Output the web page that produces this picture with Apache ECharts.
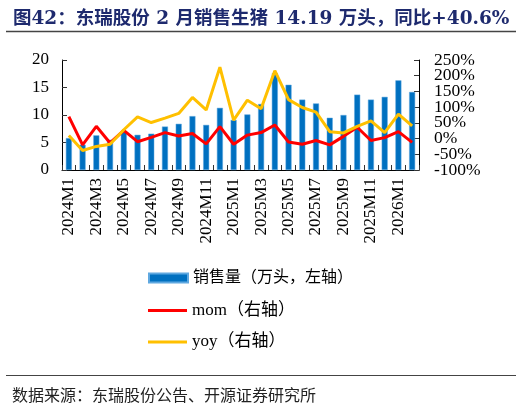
<!DOCTYPE html>
<html>
<head>
<meta charset="utf-8">
<title>东瑞股份生猪销售</title>
<script src="https://cdn.jsdelivr.net/npm/echarts@6/dist/echarts.min.js"></script>
<style>
  html, body { margin: 0; padding: 0; background: #fff; }
  #main { width: 522px; height: 405px; }
</style>
</head>
<body>
<div id="main"></div>
<script>
// months 2024M1 .. 2026M2
var months = ['2024M1','2024M2','2024M3','2024M4','2024M5','2024M6','2024M7','2024M8','2024M9','2024M10','2024M11','2024M12',
              '2025M1','2025M2','2025M3','2025M4','2025M5','2025M6','2025M7','2025M8','2025M9','2025M10','2025M11','2025M12',
              '2026M1','2026M2'];
// sales, 10k head (left axis)
var sales = [5.8, 4.6, 6.3, 5.5, 7.0, 6.4, 6.6, 7.9, 8.4, 9.8, 8.2, 11.3,
             9.1, 10.1, 12.0, 17.6, 15.5, 12.8, 12.1, 9.5, 10.0, 13.7, 12.8, 13.3,
             16.3, 14.19];
// month-on-month, % (right axis)
var mom = [70, -20, 39, -14, 26, -10, 4, 19, 8, 16, -17, 38,
           -18, 11, 19, 43, -11, -18, -6, -20, 7, 36, -6, 3,
           22, -12];
// year-on-year, % (right axis)
var yoy = [10, -38, -25, -18, 28, 69, 51, 65, 80, 131, 91, 227,
           59, 122, 95, 216, 124, 99, 84, 22, 18, 39, 56, 19,
           78, 40.6];

var serif = "'Liberation Serif', 'Noto Sans CJK SC'";
var chart = echarts.init(document.getElementById('main'));

// right-axis labels are packed tighter than ECharts allows, so they are
// split over two overlaid axes: one shows -100/0/100/200, the other the rest
function pctLabels(even) {
  return function (v) {
    var isEven = ((v + 100) / 50) % 2 === 0;
    return isEven === even ? v + '%' : '';
  };
}
function rightAxis(even, visible) {
  return {
    type: 'value', min: -100, max: 250, interval: 50, position: 'right',
    splitLine: { show: false },
    axisLine: { show: visible, lineStyle: { color: '#000' } },
    axisTick: { show: visible, inside: true, length: 5, lineStyle: { color: '#333' } },
    axisLabel: { margin: 15, formatter: pctLabels(even), showMinLabel: true, showMaxLabel: true,
                 fontFamily: serif, fontSize: 17.5, color: '#000' }
  };
}

chart.setOption({
  animation: false,
  title: [{
    text: '图42：东瑞股份 2 月销售生猪 14.19 万头，同比+40.6%',
    left: 8, top: 5,
    textStyle: { fontFamily: "'DejaVu Serif', 'Noto Sans CJK SC'", fontWeight: 'bold', fontSize: 18.5, color: '#1e2a6e' }
  }, {
    text: '数据来源：东瑞股份公告、开源证券研究所',
    left: 7, top: 382,
    textStyle: { fontFamily: 'Noto Sans CJK SC', fontWeight: 'normal', fontSize: 16, color: '#222' }
  }],
  graphic: [
    { type: 'line', shape: { x1: 6, y1: 31.5, x2: 516, y2: 31.5 }, style: { stroke: '#444', lineWidth: 1.5 } },
    { type: 'line', shape: { x1: 6, y1: 375.5, x2: 516, y2: 375.5 }, style: { stroke: '#444', lineWidth: 1.2 } }
  ],
  legend: [{
    data: ['销售量（万头，左轴）'],
    left: 148, top: 270, padding: 0,
    icon: 'rect', itemWidth: 39, itemHeight: 9, itemGap: 14,
    textStyle: { fontFamily: serif, fontSize: 16, color: '#000' }
  }, {
    data: ['mom（右轴）', 'yoy（右轴）'],
    orient: 'vertical',
    left: 148, top: 302, padding: 0,
    icon: 'rect', itemWidth: 39, itemHeight: 3, itemGap: 14.5,
    textStyle: { fontFamily: serif, fontSize: 17, color: '#000' }
  }],
  grid: { left: 62, right: 103, top: 60, height: 110 },
  xAxis: {
    type: 'category',
    data: months,
    axisLine: { lineStyle: { color: '#000', width: 1 } },
    axisTick: { show: true, inside: true, interval: 0, length: 5, lineStyle: { color: '#333' } },
    axisLabel: { interval: 1, rotate: 90, margin: 8, fontFamily: serif, fontSize: 17, color: '#000' }
  },
  yAxis: [{
    type: 'value', min: 0, max: 20, interval: 5,
    splitLine: { show: false },
    axisLine: { show: true, lineStyle: { color: '#000' } },
    axisTick: { show: true, inside: true, length: 5, lineStyle: { color: '#333' } },
    axisLabel: { margin: 13, fontFamily: serif, fontSize: 17, color: '#000' }
  }, rightAxis(true, true), rightAxis(false, false)],
  series: [{
    name: '销售量（万头，左轴）',
    type: 'bar',
    data: sales,
    barWidth: 6,
    itemStyle: { color: '#0070c0', borderColor: '#5fa8e0', borderWidth: 0.5 }
  }, {
    name: 'mom（右轴）',
    type: 'line',
    yAxisIndex: 1,
    data: mom,
    symbol: 'none',
    lineStyle: { color: '#ff0000', width: 3 },
    itemStyle: { color: '#ff0000' }
  }, {
    name: 'yoy（右轴）',
    type: 'line',
    yAxisIndex: 1,
    data: yoy,
    symbol: 'none',
    lineStyle: { color: '#ffc000', width: 3 },
    itemStyle: { color: '#ffc000' }
  }]
});
</script>
</body>
</html>
